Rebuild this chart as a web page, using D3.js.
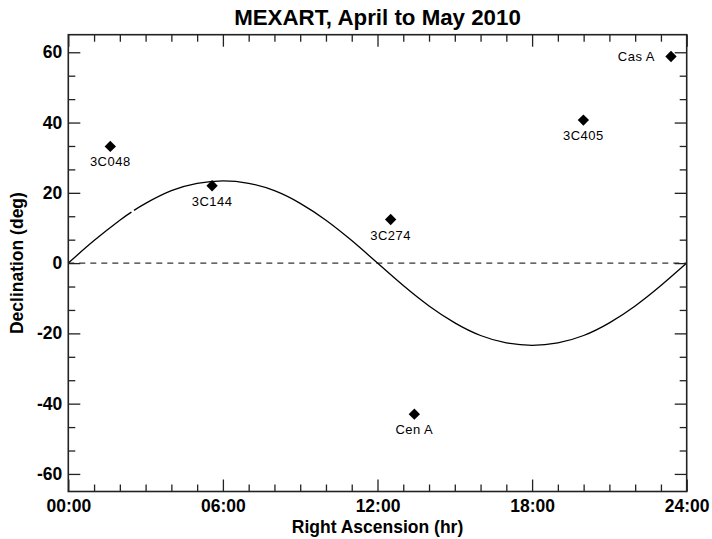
<!DOCTYPE html>
<html>
<head>
<meta charset="utf-8">
<script src="https://cdn.jsdelivr.net/npm/d3@7"></script>
<style>
  html, body { margin: 0; padding: 0; background: #fff; }
  svg { display: block; }
  text { font-family: "Liberation Sans", Arial, Helvetica, sans-serif; fill: #000; }
</style>
</head>
<body>
<svg id="chart" width="712" height="539"></svg>
<script>
// ---- data ----
const titleText = "MEXART, April to May 2010";
const xTitle = "Right Ascension (hr)";
const yTitle = "Declination (deg)";

const sourceNames = ["3C048", "3C144", "3C274", "Cen A", "3C405", "Cas A"];
const sourceRA    = [1.63, 5.58, 12.51, 13.43, 19.99, 23.39];
const sourceDec   = [33.2, 22.0, 12.4, -43.0, 40.7, 58.8];

// ecliptic (null marks the small break in the line)
const eclipticRA  = [0, 1, 2, 2.45, 2.5, 2.55, 3, 4, 5, 6, 7, 8, 9, 10, 11, 12, 13, 14, 15, 16, 17, 18, 19, 20, 21, 22, 23, 24];
const eclipticDec = [0, 6.4, 12.2, 14.5, null, 15.0, 17.0, 20.6, 22.7, 23.4, 22.7, 20.6, 17.0, 12.2, 6.4, 0, -6.4, -12.2, -17.0, -20.6, -22.7, -23.4, -22.7, -20.6, -17.0, -12.2, -6.4, 0];

const xMajorTicks = [0, 6, 12, 18, 24];
const xTickLabels = ["00:00", "06:00", "12:00", "18:00", "24:00"];
const yMajorTicks = [-60, -40, -20, 0, 20, 40, 60];
const yTickLabels = ["-60", "-40", "-20", "0", "20", "40", "60"];

// ---- layout ----
const svg = d3.select("#chart");
const L = 68.3, R = 686.7, T = 34.7, B = 491.5;
const x = d3.scaleLinear().domain([0, 24]).range([L, R]);
const y = d3.scaleLinear().domain([-65, 65]).range([B, T]);

const xMinor = d3.range(0, 25, 1).filter(v => v % 6 !== 0);
const yMinor = d3.range(-60, 61, 20 / 3).map(v => Math.round(v * 1000) / 1000)
  .filter(v => Math.abs(v % 20) > 0.01);

const axisColor = "#222";
const major = 12, minor = 7;
const tickFont = 17.5;

// zero dashed line
svg.append("line")
  .attr("x1", x(0)).attr("x2", x(24))
  .attr("y1", y(0)).attr("y2", y(0))
  .attr("stroke", "#000").attr("stroke-width", 1)
  .attr("stroke-dasharray", "6,5");

// ecliptic curve
const ecl = eclipticRA.map((r, i) => ({ ra: r, dec: eclipticDec[i] }));
const line = d3.line()
  .defined(d => d.dec !== null)
  .x(d => x(d.ra)).y(d => y(d.dec))
  .curve(d3.curveNatural);
svg.append("path").datum(ecl)
  .attr("d", line)
  .attr("fill", "none").attr("stroke", "#000").attr("stroke-width", 1.3);

function styleAxis(g) {
  g.select(".domain").remove();
  g.selectAll(".tick line").attr("stroke", axisColor).attr("stroke-width", 1.3);
}
// bottom
const gB = svg.append("g").attr("transform", `translate(0,${B})`)
  .call(d3.axisBottom(x).tickValues(xMajorTicks).tickSize(-major)
    .tickFormat((d, i) => xTickLabels[i]).tickPadding(8));
styleAxis(gB);
gB.selectAll(".tick text").attr("font-size", tickFont).attr("font-weight", "bold")
  .attr("font-family", "Liberation Sans, Arial, sans-serif").attr("fill", "#000");
svg.append("g").attr("transform", `translate(0,${B})`)
  .call(d3.axisBottom(x).tickValues(xMinor).tickSize(-minor).tickFormat(""))
  .call(styleAxis);
// top
svg.append("g").attr("transform", `translate(0,${T})`)
  .call(d3.axisTop(x).tickValues(xMajorTicks).tickSize(-major).tickFormat(""))
  .call(styleAxis);
svg.append("g").attr("transform", `translate(0,${T})`)
  .call(d3.axisTop(x).tickValues(xMinor).tickSize(-minor).tickFormat(""))
  .call(styleAxis);
// left
const gL = svg.append("g").attr("transform", `translate(${L},0)`)
  .call(d3.axisLeft(y).tickValues(yMajorTicks).tickSize(-major).tickPadding(6)
    .tickFormat((d, i) => yTickLabels[i]));
styleAxis(gL);
gL.selectAll(".tick text").attr("font-size", tickFont).attr("font-weight", "bold")
  .attr("font-family", "Liberation Sans, Arial, sans-serif").attr("fill", "#000")
  .attr("x", -6);
svg.append("g").attr("transform", `translate(${L},0)`)
  .call(d3.axisLeft(y).tickValues(yMinor).tickSize(-minor).tickFormat(""))
  .call(styleAxis);
// right
svg.append("g").attr("transform", `translate(${R},0)`)
  .call(d3.axisRight(y).tickValues(yMajorTicks).tickSize(-major).tickFormat(""))
  .call(styleAxis);
svg.append("g").attr("transform", `translate(${R},0)`)
  .call(d3.axisRight(y).tickValues(yMinor).tickSize(-minor).tickFormat(""))
  .call(styleAxis);

// frame
svg.append("rect")
  .attr("x", L).attr("y", T).attr("width", R - L).attr("height", B - T)
  .attr("fill", "none").attr("stroke", axisColor).attr("stroke-width", 1.6);

// sources
const sources = sourceNames.map((n, i) => ({ name: n, ra: sourceRA[i], dec: sourceDec[i] }));
const diamond = d3.symbol().type(d3.symbolDiamond2).size(82);
svg.append("g").selectAll("path").data(sources).join("path")
  .attr("d", diamond)
  .attr("transform", d => `translate(${x(d.ra)},${y(d.dec)})`)
  .attr("fill", "#000");

svg.append("g").selectAll("text").data(sources).join("text")
  .attr("x", d => d.ra > 23 ? x(d.ra) - 16 : x(d.ra))
  .attr("y", d => d.ra > 23 ? y(d.dec) + 4.5 : y(d.dec) + 20)
  .attr("text-anchor", d => d.ra > 23 ? "end" : "middle")
  .attr("font-size", 13)
  .attr("letter-spacing", 0.5)
  .text(d => d.name);

// titles
svg.append("text").attr("x", (L + R) / 2).attr("y", 25)
  .attr("text-anchor", "middle").attr("font-size", 22.3).attr("font-weight", "bold")
  .text(titleText);
svg.append("text").attr("x", (L + R) / 2).attr("y", 533)
  .attr("text-anchor", "middle").attr("font-size", 17.5).attr("font-weight", "bold")
  .text(xTitle);
svg.append("text")
  .attr("transform", `translate(23,${(T + B) / 2}) rotate(-90)`)
  .attr("text-anchor", "middle").attr("font-size", 17.5).attr("font-weight", "bold")
  .text(yTitle);
</script>
</body>
</html>
